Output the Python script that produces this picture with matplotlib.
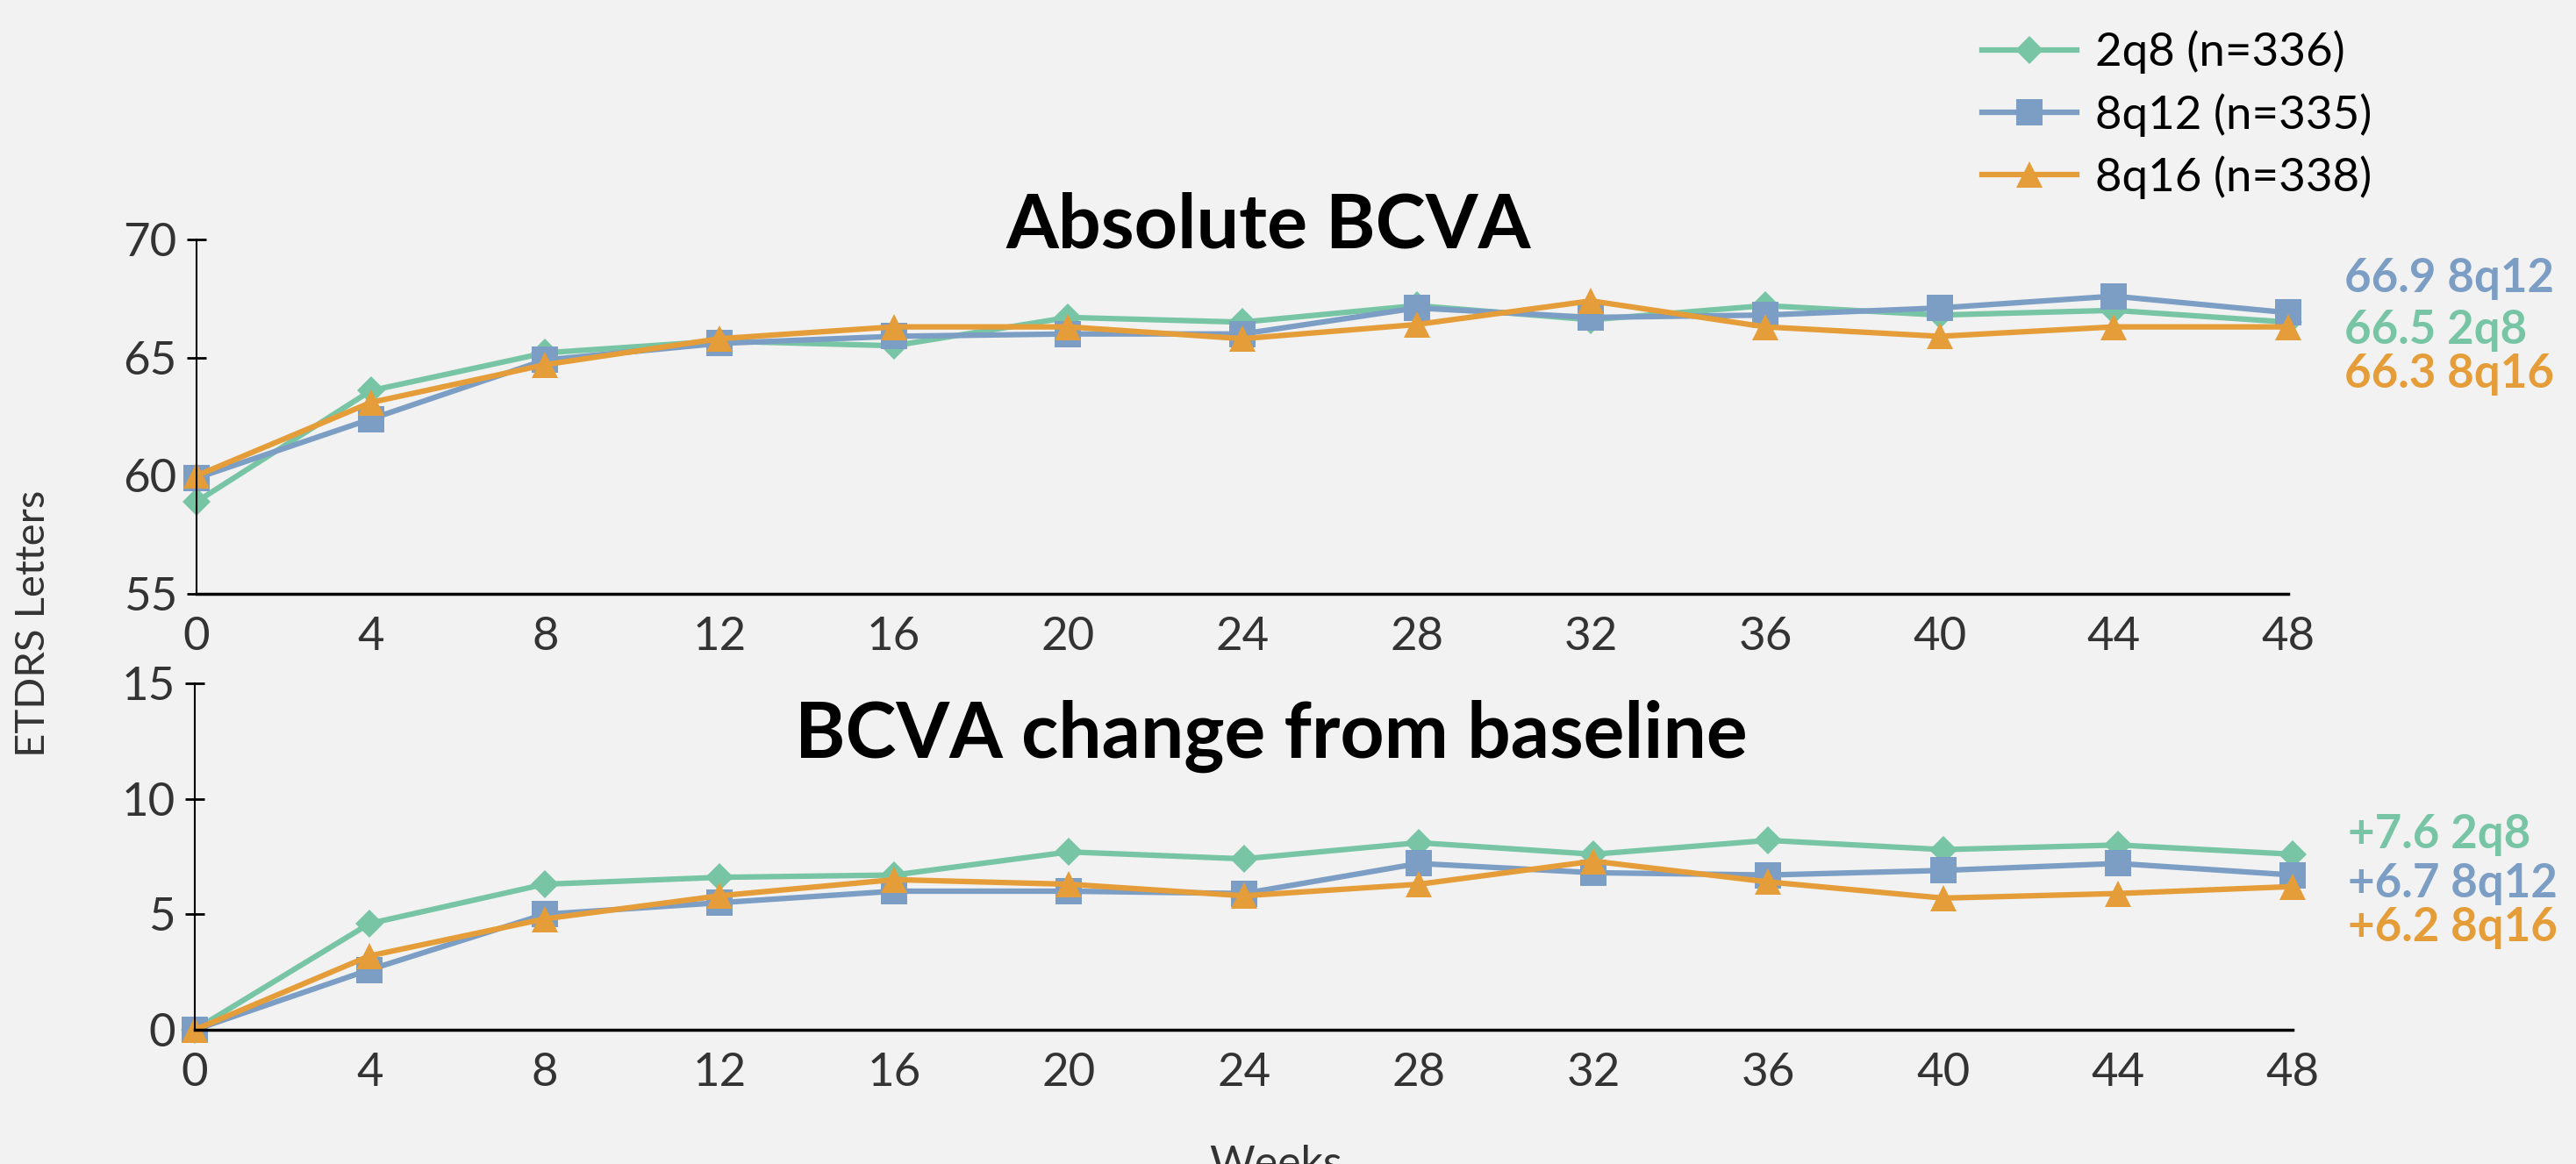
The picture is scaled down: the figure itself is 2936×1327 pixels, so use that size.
import matplotlib
matplotlib.use('Agg')
import matplotlib.pyplot as plt

plt.rcParams['font.family'] = ['Lato', 'DejaVu Sans']

# weeks on the x axis
weeks = [0, 4, 8, 12, 16, 20, 24, 28, 32, 36, 40, 44, 48]

# absolute BCVA (ETDRS letters)
abs_2q8 = [58.9, 63.6, 65.2, 65.7, 65.5, 66.7, 66.5, 67.2, 66.6, 67.2, 66.8, 67.0, 66.5]
abs_8q12 = [59.9, 62.4, 64.9, 65.6, 65.9, 66.0, 66.0, 67.1, 66.7, 66.8, 67.1, 67.6, 66.9]
abs_8q16 = [60.0, 63.1, 64.7, 65.8, 66.3, 66.3, 65.8, 66.4, 67.4, 66.3, 65.9, 66.3, 66.3]

# change from baseline
chg_2q8 = [0, 4.6, 6.3, 6.6, 6.7, 7.7, 7.4, 8.1, 7.6, 8.2, 7.8, 8.0, 7.6]
chg_8q12 = [0, 2.6, 5.0, 5.5, 6.0, 6.0, 5.9, 7.2, 6.8, 6.7, 6.9, 7.2, 6.7]
chg_8q16 = [0, 3.2, 4.8, 5.8, 6.5, 6.3, 5.8, 6.3, 7.3, 6.4, 5.7, 5.9, 6.2]

series_names = ['2q8 (n=336)', '8q12 (n=335)', '8q16 (n=338)']
colors = ['#78C5A6', '#7C9EC4', '#E59D3A']
markers = ['D', 's', '^']
msizes = [16, 21, 22]

# end-of-line labels, top to bottom
top_labels = ['66.9 8q12', '66.5 2q8', '66.3 8q16']
top_label_colors = ['#7C9EC4', '#78C5A6', '#E59D3A']
bot_labels = ['+7.6 2q8', '+6.7 8q12', '+6.2 8q16']
bot_label_colors = ['#78C5A6', '#7C9EC4', '#E59D3A']

bg = '#F1F2F1'
txt = '#333333'

fig = plt.figure(figsize=(29.36, 13.27), dpi=100, facecolor=bg)
ax1 = fig.add_axes([0.0763, 0.4898, 0.812, 0.3045])
ax2 = fig.add_axes([0.0756, 0.1153, 0.8145, 0.2977])

def style(ax, ylim, yticks):
    ax.set_facecolor(bg)
    ax.set_xlim(0, 48)
    ax.set_ylim(*ylim)
    ax.set_xticks(weeks)
    ax.set_yticks(yticks)
    for s in ['top', 'right']:
        ax.spines[s].set_visible(False)
    ax.spines['left'].set_linewidth(1.5)
    ax.spines['bottom'].set_linewidth(2.5)
    ax.tick_params(axis='x', length=0, pad=19, labelsize=38, labelcolor=txt)
    ax.tick_params(axis='y', direction='inout', length=16, width=2,
                   pad=8, labelsize=38, labelcolor=txt)
    ax.margins(0)

lines = []
for data, c, m, ms in zip([abs_2q8, abs_8q12, abs_8q16], colors, markers, msizes):
    ln, = ax1.plot(weeks, data, color=c, marker=m, markersize=ms, lw=4.5,
                   markeredgewidth=0, clip_on=False)
    lines.append(ln)
for data, c, m, ms in zip([chg_2q8, chg_8q12, chg_8q16], colors, markers, msizes):
    ax2.plot(weeks, data, color=c, marker=m, markersize=ms, lw=4.5,
             markeredgewidth=0, clip_on=False)

style(ax1, (55, 70), [55, 60, 65, 70])
style(ax2, (0, 15), [0, 5, 10, 15])

fig.text(0.4925, 1 - 258 / 1327, 'Absolute BCVA', fontsize=62, fontweight='bold',
         ha='center', va='center')
fig.text(0.4935, 1 - 839 / 1327, 'BCVA change from baseline', fontsize=63,
         fontweight='bold', ha='center', va='center')

for lab, c, y in zip(top_labels, top_label_colors, [0.889, 0.743, 0.619]):
    ax1.text(1.027, y, lab, transform=ax1.transAxes, color=c, fontsize=38,
             fontweight='bold', ha='left', va='center')
for lab, c, y in zip(bot_labels, bot_label_colors, [0.563, 0.421, 0.294]):
    ax2.text(1.026, y, lab, transform=ax2.transAxes, color=c, fontsize=38,
             fontweight='bold', ha='left', va='center')

fig.text(0.0129, 1 - 711 / 1327, 'ETDRS Letters', rotation=90, fontsize=34,
         color=txt, ha='center', va='center')
fig.text(0.4952, 1 - 1305 / 1327, 'Weeks', fontsize=36, color=txt,
         ha='center', va='top')

fig.legend(lines, series_names, loc='upper left', bbox_to_anchor=(0.7694, 0.974),
           frameon=False, fontsize=38, handlelength=2.05, handletextpad=0.4,
           labelspacing=0.41, borderpad=0, borderaxespad=0)

fig.savefig('out.png', dpi=100, facecolor=bg)
